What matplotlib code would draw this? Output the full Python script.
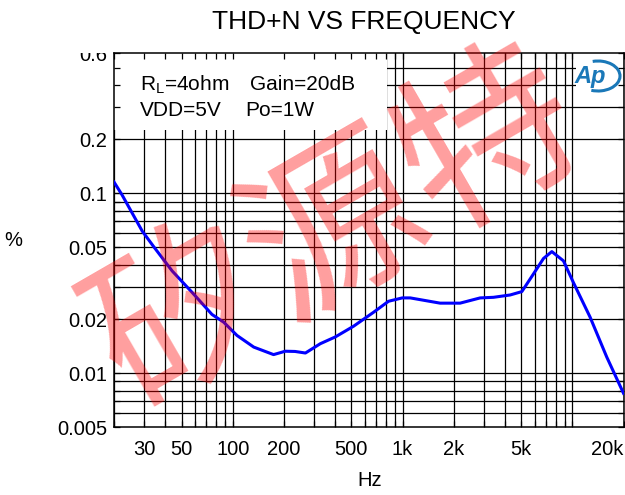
import numpy as np
import matplotlib
matplotlib.use("Agg")
import matplotlib.pyplot as plt
from matplotlib.patches import Rectangle, Arc

plt.rcParams['font.family'] = ['Liberation Sans', 'DejaVu Sans']

# THD+N curve
freq = [20, 22.3, 29.3, 34.3, 44, 57.7, 75.5, 88.5, 106, 133, 174, 204, 233, 268,
        328, 402, 515, 675, 827, 996, 1110, 1664, 2182, 2864, 3431, 4300, 5040,
        5900, 6760, 7570, 8860, 10140, 12710, 15930, 20000]
thd = [0.1155, 0.098, 0.0617, 0.0504, 0.037, 0.0281, 0.0212, 0.0192, 0.0162, 0.01396,
       0.01268, 0.01324, 0.0132, 0.01294, 0.01458, 0.0159, 0.01824, 0.0218, 0.0251,
       0.0262, 0.0262, 0.0245, 0.0245, 0.0262, 0.0264, 0.0272, 0.0284,
       0.0356, 0.0434, 0.0474, 0.0421, 0.0319, 0.0205, 0.0123, 0.00773]

xticks = [30, 50, 100, 200, 500, 1000, 2000, 5000, 20000]
xticklabels = ["30", "50", "100", "200", "500", "1k", "2k", "5k", "20k"]
yticks = [0.005, 0.01, 0.02, 0.05, 0.1, 0.2, 0.6]
yticklabels = ["0.005", "0.01", "0.02", "0.05", "0.1", "0.2", "0.6"]

xgrid = [m * d for d in (10, 100, 1000, 10000) for m in range(1, 10) if 20 <= m * d <= 20000]
ygrid = [0.006, 0.007, 0.008, 0.009, 0.01, 0.02, 0.03, 0.04, 0.05, 0.06, 0.07,
         0.08, 0.09, 0.1, 0.2, 0.3, 0.4, 0.5]

W, H = 625, 495
fig = plt.figure(figsize=(W / 100, H / 100), dpi=100)
ax = fig.add_axes([114 / W, (H - 427.3) / H, (623.5 - 114) / W, (427.3 - 53.3) / H])
ax.set_xscale("log")
ax.set_yscale("log")
ax.set_xlim(20, 20000)
ax.set_ylim(0.005, 0.6)

for v in xgrid:
    ax.axvline(v, color="k", lw=0.9, zorder=1)
for v in ygrid:
    ax.axhline(v, color="k", lw=0.9, zorder=1)

ax.plot(freq, thd, color="#0000ff", lw=2.2, zorder=3)

# text box at the top left, hides the grid
ax.add_patch(Rectangle((114, H - 130), 387 - 114, 130 - 53.3, transform=None,
                       facecolor="white", edgecolor="none", zorder=2))
fig.text(140 / W, 1 - 90 / H, "R$_\\mathregular{L}$=4ohm", fontsize=15)
fig.text(250 / W, 1 - 90 / H, "Gain=20dB", fontsize=15)
fig.text(140 / W, 1 - 116 / H, "VDD=5V", fontsize=15)
fig.text(245 / W, 1 - 116 / H, "Po=1W", fontsize=15)

# AP logo
ax.add_patch(Rectangle((576, H - 100), 47, 45, transform=None,
                       facecolor="white", edgecolor="none", zorder=2))
fig.text(590 / W, 1 - 76 / H, "Ap", fontsize=17, fontstyle="italic", fontweight="bold",
         color="#1a78b8", ha="center", va="center", zorder=4)
fig.add_artist(Arc((598, H - 76), 44, 30, theta1=-115, theta2=110, transform=None,
                   color="#1a78b8", lw=2.2, zorder=4))

ax.set_xticks(xgrid, minor=True)
ax.set_yticks(ygrid, minor=True)
ax.set_xticks(xticks)
ax.set_xticklabels(xticklabels)
ax.set_yticks(yticks)
ax.set_yticklabels(yticklabels)
ax.xaxis.set_minor_formatter(matplotlib.ticker.NullFormatter())
ax.yaxis.set_minor_formatter(matplotlib.ticker.NullFormatter())
ax.tick_params(which="both", direction="in", top=True, right=True, length=4,
               width=0.9, labelsize=14.5)
ax.tick_params(axis="x", pad=9)
ax.tick_params(axis="y", pad=5)
ax.set_axisbelow(False)
for s in ax.spines.values():
    s.set_linewidth(1.1)
ax.get_xticklabels()[-1].set_ha("right")
# the top label is cut at the frame, as in the picture
ytl = ax.get_yticklabels()[-1]
ytl.set_clip_box(matplotlib.transforms.Bbox([[0, 0], [W, H - 53.3]]))
ytl.set_clip_on(True)

fig.text(364 / W, 1 - 22 / H, "THD+N VS FREQUENCY", fontsize=19, ha="center", va="center")
fig.text(13 / W, 1 - 240 / H, "%", fontsize=14.5, ha="center", va="center")
fig.text(370 / W, 1 - 481 / H, "Hz", fontsize=14.5, ha="center", va="center")

# watermark
fig.text(338 / W, 1 - 232 / H, "矽源特", fontsize=128, rotation=30, color="red", alpha=0.38,
         ha="center", va="center", family=["Noto Sans CJK SC"], zorder=10)

fig.savefig("out.png", dpi=100, facecolor="white")
